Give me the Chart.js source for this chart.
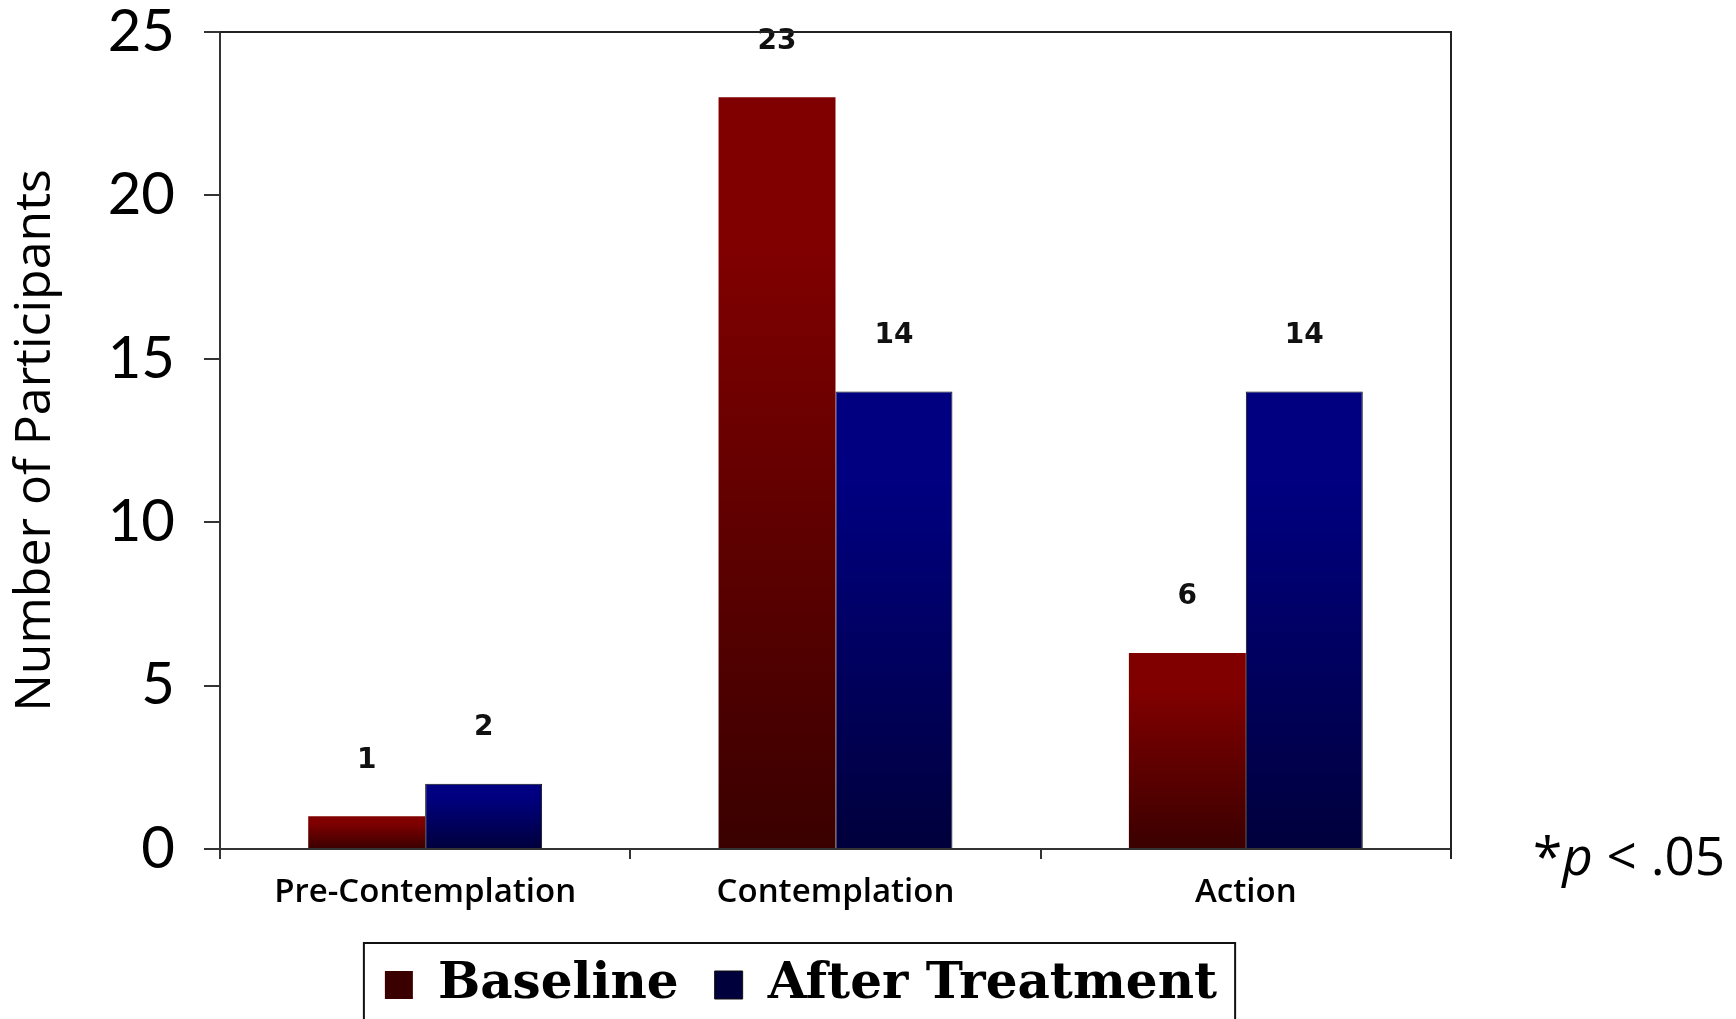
<!DOCTYPE html>
<html><head><meta charset="utf-8">
<script src="https://cdn.jsdelivr.net/npm/chart.js@4.4.1/dist/chart.umd.min.js"></script>
<style>html,body{margin:0;padding:0;background:#fff;}</style>
</head><body>
<canvas id="c" width="1736" height="1019"></canvas>
<script>
const categories = ['Pre-Contemplation', 'Contemplation', 'Action'];
const baselineValues = [1, 23, 6];
const afterTreatmentValues = [2, 14, 14];
const seriesNames = ['Baseline', 'After Treatment'];
const yTickMin = 0, yTickMax = 25, yTickStep = 5;
const yAxisTitle = 'Number of Participants';
const noteParts = [['*', ''], ['p', 'italic '], [' < .05', '']];

function barFill(topColor, bottomColor, legendColor) {
  return (ctx) => {
    const chart = ctx.chart;
    if (ctx.type !== 'data' || !chart.chartArea) return legendColor;
    const y = chart.scales.y;
    const y0 = y.getPixelForValue(0);
    const y1 = y.getPixelForValue(ctx.raw);
    const g = chart.ctx.createLinearGradient(0, y1, 0, y0);
    g.addColorStop(0, topColor);
    g.addColorStop(0.2, topColor);
    g.addColorStop(1, bottomColor);
    return g;
  };
}

const valueLabels = {
  id: 'valueLabels',
  afterDatasetsDraw(chart) {
    const ctx = chart.ctx;
    ctx.save();
    ctx.font = 'bold 28px "DejaVu Sans"';
    ctx.fillStyle = '#111';
    ctx.textAlign = 'center';
    ctx.textBaseline = 'middle';
    chart.data.datasets.forEach((ds, i) => {
      chart.getDatasetMeta(i).data.forEach((bar, j) => {
        ctx.fillText(String(ds.data[j]), bar.x, bar.y - 56);
      });
    });
    ctx.restore();
  }
};

const legendPlacer = {
  id: 'legendPlacer',
  afterLayout(chart) {
    const lg = chart.legend;
    const pad = lg.options.labels.padding;
    const shift = 819 - (lg.left + lg.right + pad) / 2;
    lg.left += shift;
    lg.right += shift;
  }
};

const decorations = {
  id: 'decorations',
  afterDraw(chart) {
    const ctx = chart.ctx;
    const a = chart.chartArea;
    ctx.save();
    ctx.strokeStyle = '#222';
    ctx.lineWidth = 2;
    ctx.beginPath();
    ctx.moveTo(a.left, a.top);
    ctx.lineTo(a.right, a.top);
    ctx.lineTo(a.right, a.bottom + 10);
    ctx.stroke();
    const hb = chart.legend.legendHitBoxes;
    if (hb && hb.length) {
      const first = hb[0], last = hb[hb.length - 1];
      const cy = first.top + first.height / 2;
      const l = first.left - 21, r = last.left + last.width + 18;
      ctx.strokeStyle = '#111';
      ctx.lineWidth = 2;
      ctx.strokeRect(l, cy - 42, r - l, 130);
    }
    ctx.fillStyle = '#000';
    ctx.textBaseline = 'alphabetic';
    ctx.textAlign = 'left';
    let x = 1533;
    noteParts.forEach(([t, style]) => {
      ctx.font = style + '53px "Open Sans"';
      ctx.fillText(t, x, 875);
      x += ctx.measureText(t).width;
    });
    ctx.restore();
  }
};

new Chart(document.getElementById('c'), {
  type: 'bar',
  data: {
    labels: categories,
    datasets: [
      {
        label: seriesNames[0],
        data: baselineValues,
        backgroundColor: barFill('#800000', '#3a0000', '#650000'),
        borderWidth: 0
      },
      {
        label: seriesNames[1],
        data: afterTreatmentValues,
        backgroundColor: barFill('#000080', '#00003c', '#000065'),
        borderColor: '#111',
        borderWidth: 1
      }
    ]
  },
  options: {
    responsive: false,
    animation: false,
    devicePixelRatio: 1,
    layout: { padding: { top: 32, right: 285, bottom: -1, left: 0 } },
    datasets: { bar: { categoryPercentage: 0.57, barPercentage: 1 } },
    plugins: {
      legend: {
        position: 'bottom',
        labels: {
          boxWidth: 28,
          boxHeight: 28,
          padding: 36,
          color: '#000',
          font: { family: '"DejaVu Serif"', weight: 'bold', size: 50 }
        }
      },
      tooltip: { enabled: false }
    },
    scales: {
      x: {
        grid: { offset: true, drawOnChartArea: false, tickLength: 10, color: '#333', lineWidth: 2 },
        border: { color: '#333', width: 2 },
        ticks: { color: '#000', padding: 14, font: { family: '"Open Sans"', size: 33, weight: '600' } },
        afterFit(scale) { scale.height = 75; }
      },
      y: {
        min: yTickMin,
        max: yTickMax,
        ticks: { stepSize: yTickStep, color: '#000', padding: 29, font: { family: 'Lato', size: 58, lineHeight: 1 } },
        grid: { drawOnChartArea: false, tickLength: 16, color: '#333', lineWidth: 2 },
        border: { color: '#333', width: 2 },
        title: { display: true, text: yAxisTitle, color: '#000', padding: { top: 6, bottom: 0 }, font: { family: '"Open Sans"', size: 50, lineHeight: 1.2 } },
        afterFit(scale) { scale.width = 220; scale.paddingTop = 0; scale.paddingBottom = 0; }
      }
    }
  },
  plugins: [valueLabels, legendPlacer, decorations]
});
</script>
</body></html>
